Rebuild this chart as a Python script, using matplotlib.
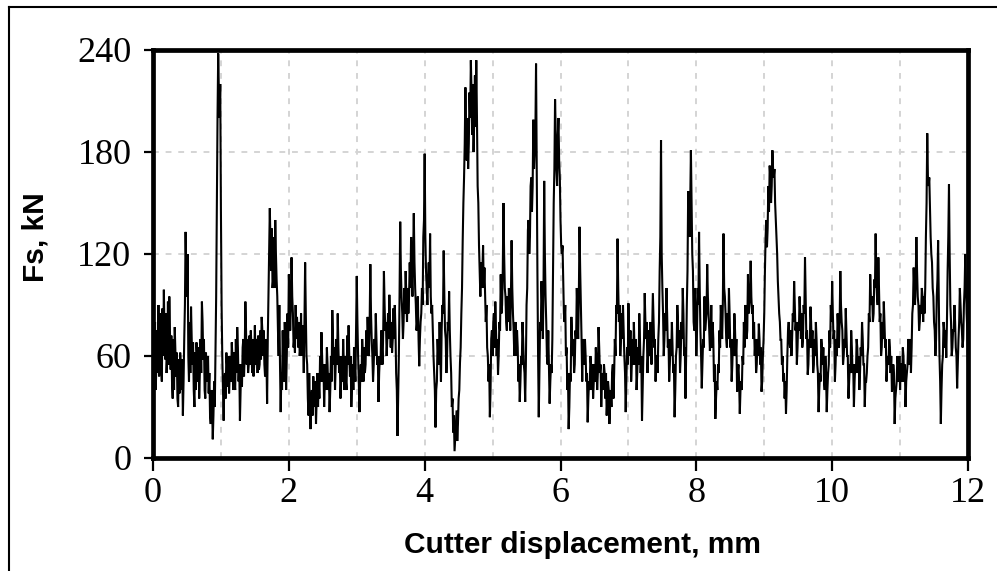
import numpy as np
import matplotlib
matplotlib.use("Agg")
import matplotlib.pyplot as plt
from matplotlib.lines import Line2D

# Cutting force Fs (kN), one row per millimetre of cutter displacement.
# fs_k : samples at k + 0.00, 0.02, 0.04 ... mm
# fm_k : samples in between, at k + 0.01, 0.03, 0.05 ... mm
fs_0 = [85, 60, 40, 75, 90, 62, 55, 88, 99, 58, 50, 92, 95, 52, 45, 70, 77, 48, 35, 58,
        62, 40, 25, 70, 133, 95, 60, 80, 89, 55, 40, 62, 68, 45, 35, 70, 92, 58, 40, 62,
        55, 38, 25, 40, 11, 45, 65, 150, 238, 200]
fm_0 = [45, 80, 55, 50, 48, 85, 45, 60, 70, 85, 60, 55, 75, 72, 35, 40, 62, 62, 30, 38,
        55, 58, 45, 90, 110, 120, 45, 50, 70, 68, 30, 40, 60, 65, 50, 50, 80, 70, 35, 45,
        60, 50, 20, 30, 25, 30, 95, 200, 215, 220]
fs_1 = [146, 60, 22, 50, 62, 42, 38, 60, 68, 40, 45, 70, 77, 45, 22, 55, 65, 48, 92, 55,
        50, 72, 75, 50, 48, 78, 70, 50, 52, 75, 83, 60, 55, 70, 32, 95, 147, 110, 100, 130,
        140, 105, 75, 90, 27, 40, 55, 80, 40, 85]
fm_1 = [90, 40, 45, 35, 55, 60, 50, 45, 58, 62, 40, 50, 65, 55, 40, 42, 70, 60, 75, 70,
        55, 55, 65, 70, 55, 55, 68, 72, 55, 58, 75, 75, 48, 60, 70, 120, 125, 135, 105, 100,
        120, 95, 60, 55, 50, 75, 45, 65, 60, 65]
fs_2 = [108, 75, 118, 85, 70, 90, 83, 65, 60, 85, 78, 50, 115, 60, 35, 50, 17, 40, 48, 30,
        20, 50, 45, 60, 74, 45, 30, 55, 65, 40, 27, 60, 87, 55, 40, 70, 85, 50, 35, 60,
        70, 40, 45, 72, 78, 48, 30, 55, 65, 45]
fm_2 = [95, 90, 95, 65, 62, 70, 75, 80, 65, 60, 70, 80, 85, 55, 25, 30, 35, 25, 40, 45,
        35, 30, 35, 45, 60, 55, 45, 40, 55, 50, 40, 45, 70, 65, 55, 55, 65, 60, 45, 45,
        55, 60, 40, 55, 60, 60, 42, 40, 55, 75]
fs_3 = [107, 60, 27, 55, 70, 45, 50, 75, 83, 60, 114, 70, 45, 70, 85, 55, 33, 60, 75, 55,
        110, 75, 60, 85, 96, 65, 62, 88, 90, 50, 13, 60, 139, 95, 70, 100, 110, 80, 85, 115,
        130, 95, 144, 100, 75, 95, 54, 80, 100, 130]
fm_3 = [80, 45, 45, 45, 60, 65, 55, 60, 70, 80, 85, 60, 55, 60, 70, 60, 50, 55, 65, 75,
        90, 80, 70, 70, 80, 80, 70, 70, 75, 40, 35, 95, 110, 85, 80, 85, 95, 100, 95, 100,
        110, 120, 115, 90, 80, 70, 70, 85, 90, 140]
fs_4 = [179, 110, 90, 115, 132, 85, 75, 50, 18, 45, 60, 80, 45, 90, 122, 75, 50, 80, 98, 60,
        30, 15, 4, 20, 10, 35, 56, 85, 128, 165, 218, 175, 170, 215, 234, 190, 180, 225, 234, 160,
        125, 95, 100, 125, 112, 80, 65, 45, 24, 70]
fm_4 = [130, 100, 105, 100, 95, 90, 60, 40, 40, 70, 55, 60, 75, 85, 95, 70, 60, 75, 75, 50,
        35, 25, 12, 28, 20, 40, 65, 100, 150, 185, 190, 200, 185, 200, 215, 220, 200, 195, 200, 150,
        110, 115, 110, 100, 95, 90, 60, 55, 40, 75]
fs_5 = [60, 85, 92, 60, 49, 80, 108, 90, 150, 100, 80, 95, 100, 75, 128, 85, 60, 80, 75, 45,
        33, 60, 80, 55, 33, 90, 134, 120, 160, 145, 199, 180, 232, 110, 24, 80, 104, 70, 163, 95,
        60, 75, 32, 55, 70, 150, 211, 170, 189, 175]
fm_5 = [80, 65, 75, 70, 60, 75, 85, 110, 120, 95, 75, 80, 90, 95, 100, 75, 65, 60, 65, 55,
        45, 55, 70, 50, 55, 100, 140, 130, 165, 160, 170, 190, 170, 60, 50, 75, 90, 100, 120, 80,
        55, 55, 45, 50, 110, 170, 190, 160, 200, 165]
fs_6 = [140, 120, 104, 80, 60, 40, 17, 50, 83, 60, 50, 75, 100, 70, 136, 90, 45, 60, 70, 45,
        21, 45, 60, 40, 35, 55, 65, 40, 77, 50, 30, 50, 55, 35, 25, 45, 20, 40, 50, 35,
        70, 90, 129, 80, 60, 85, 90, 60, 27, 65]
fm_6 = [125, 125, 85, 90, 65, 50, 30, 45, 70, 70, 55, 70, 85, 95, 110, 70, 70, 55, 60, 50,
        35, 40, 55, 55, 45, 45, 55, 50, 65, 55, 45, 40, 50, 50, 35, 40, 30, 30, 55, 50,
        60, 85, 100, 90, 70, 70, 75, 50, 45, 55]
fs_7 = [91, 60, 45, 70, 80, 55, 40, 65, 85, 50, 22, 60, 97, 70, 50, 75, 80, 55, 97, 65,
        45, 60, 70, 110, 187, 100, 60, 85, 100, 65, 45, 70, 80, 50, 24, 60, 90, 65, 50, 80,
        100, 60, 35, 90, 157, 130, 181, 120, 80, 100]
fm_7 = [70, 75, 55, 55, 65, 70, 50, 55, 70, 60, 40, 70, 80, 80, 60, 60, 70, 75, 80, 70,
        60, 50, 80, 130, 120, 85, 70, 75, 85, 70, 55, 60, 65, 55, 40, 65, 80, 75, 60, 70,
        85, 65, 60, 110, 140, 150, 150, 110, 75, 85]
fs_8 = [60, 100, 133, 75, 41, 70, 95, 80, 114, 85, 63, 90, 80, 45, 23, 45, 55, 75, 90, 70,
        132, 95, 70, 85, 100, 65, 45, 70, 85, 60, 39, 55, 26, 45, 60, 80, 90, 70, 108, 90,
        116, 85, 70, 60, 50, 70, 79, 55, 39, 60]
fm_8 = [75, 90, 100, 60, 55, 65, 75, 85, 95, 75, 70, 65, 70, 55, 35, 40, 50, 65, 80, 90,
        100, 85, 65, 70, 85, 70, 55, 60, 75, 70, 50, 45, 40, 40, 55, 65, 80, 75, 85, 95,
        95, 90, 80, 70, 55, 60, 70, 65, 45, 70]
fs_9 = [85, 130, 124, 160, 172, 150, 181, 165, 150, 130, 104, 85, 69, 55, 45, 35, 26, 60, 80, 65,
        60, 85, 104, 75, 55, 80, 95, 70, 65, 90, 118, 70, 49, 70, 89, 65, 50, 70, 80, 55,
        27, 50, 70, 55, 45, 60, 27, 50, 75, 90]
fm_9 = [110, 140, 135, 145, 165, 160, 170, 170, 140, 120, 95, 80, 70, 60, 50, 45, 40, 75, 70, 75,
        70, 80, 90, 80, 65, 75, 85, 85, 70, 85, 95, 75, 55, 65, 80, 75, 55, 60, 70, 50,
        40, 45, 65, 65, 40, 50, 40, 55, 65, 80]
fs_10 = [104, 70, 45, 70, 85, 65, 110, 80, 55, 70, 88, 60, 35, 55, 75, 50, 30, 55, 70, 50,
         40, 65, 80, 55, 30, 45, 60, 85, 108, 90, 80, 105, 132, 95, 118, 80, 60, 80, 92, 65,
         45, 60, 70, 50, 39, 55, 20, 40, 60, 45]
fm_10 = [85, 75, 55, 60, 75, 80, 90, 75, 60, 65, 75, 60, 45, 50, 65, 55, 45, 50, 65, 60,
         50, 60, 70, 55, 45, 50, 65, 80, 95, 95, 85, 100, 105, 90, 100, 85, 65, 70, 80, 70,
         55, 55, 65, 60, 45, 50, 35, 45, 55, 60]
fs_11 = [40, 55, 65, 45, 30, 50, 70, 55, 50, 85, 112, 90, 130, 95, 75, 90, 100, 80, 85, 130,
         191, 160, 148, 120, 100, 80, 60, 95, 128, 60, 20, 55, 80, 65, 59, 110, 161, 90, 60, 75,
         90, 65, 41, 70, 100, 80, 65, 90, 120, 85, 55]
fm_11 = [55, 45, 60, 55, 45, 55, 65, 70, 65, 90, 100, 105, 110, 90, 80, 85, 95, 95, 100, 150,
         165, 165, 130, 115, 95, 75, 70, 105, 95, 45, 40, 60, 75, 75, 80, 130, 120, 80, 65, 75,
         80, 60, 55, 80, 90, 75, 70, 100, 105, 75]

even_rows = [fs_0, fs_1, fs_2, fs_3, fs_4, fs_5, fs_6, fs_7, fs_8, fs_9, fs_10, fs_11]
odd_rows = [fm_0, fm_1, fm_2, fm_3, fm_4, fm_5, fm_6, fm_7, fm_8, fm_9, fm_10, fm_11]
step_mm = 0.02

xs, ys = [], []
for mm, r in enumerate(even_rows):
    xs.append(mm + step_mm * np.arange(len(r)))
    ys.append(np.asarray(r, dtype=float))
for mm, r in enumerate(odd_rows):
    xs.append(mm + step_mm / 2 + step_mm * np.arange(len(r)))
    ys.append(np.asarray(r, dtype=float))
x_all = np.concatenate(xs)
y_all = np.concatenate(ys)
order = np.argsort(x_all, kind="stable")
displacement_mm = x_all[order]
force_kN = y_all[order]

x_ticks = [0, 2, 4, 6, 8, 10, 12]
y_ticks = [0, 60, 120, 180, 240]

fig = plt.figure(figsize=(9.97, 5.71), dpi=100)
ax = fig.add_axes([153 / 997, 1 - 458 / 571, (968 - 153) / 997, (458 - 50) / 571])

ax.plot(displacement_mm, force_kN, color="black", lw=1.5, solid_joinstyle="miter")

ax.set_xlim(0, 12)
ax.set_ylim(0, 240)
ax.set_xticks(x_ticks)
ax.set_xticks([1, 3, 5, 7, 9, 11], minor=True)
ax.set_yticks(y_ticks)

serif = ["Liberation Serif", "DejaVu Serif"]
ax.set_xticklabels([str(v) for v in x_ticks], fontfamily=serif, fontsize=26)
ax.set_yticklabels([str(v) for v in y_ticks], fontfamily=serif, fontsize=26)

ax.tick_params(axis="x", which="major", direction="out", length=9.5, width=1.6, pad=4)
ax.tick_params(axis="x", which="minor", length=0)
ax.tick_params(axis="y", which="major", direction="out", length=6.5, width=1.6, pad=9)

grid_kw = dict(color="#d4d4d4", linestyle=(0, (3, 3.5)), linewidth=1.4)
ax.grid(True, axis="x", which="both", **grid_kw)
ax.grid(True, axis="y", which="major", **grid_kw)
ax.set_axisbelow(True)

for s in ax.spines.values():
    s.set_linewidth(3.4)
    s.set_color("black")

sans = ["Liberation Sans", "DejaVu Sans"]
fig.text(583 / 997, 1 - 545 / 571, "Cutter displacement, mm", ha="center", va="center",
         fontfamily=sans, fontweight="bold", fontsize=21.5)
fig.text(35 / 997, 1 - 237 / 571, "Fs, kN", ha="center", va="center", rotation=90,
         fontfamily=sans, fontweight="bold", fontsize=21.5)

# outer frame (top and left edges visible)
fig.add_artist(Line2D([9 / 997, 9 / 997], [0, 1 - 7 / 571], transform=fig.transFigure,
                      color="black", lw=1.5))
fig.add_artist(Line2D([9 / 997, 1], [1 - 7 / 571, 1 - 7 / 571], transform=fig.transFigure,
                      color="black", lw=1.5))

fig.savefig("out.png", dpi=100)
